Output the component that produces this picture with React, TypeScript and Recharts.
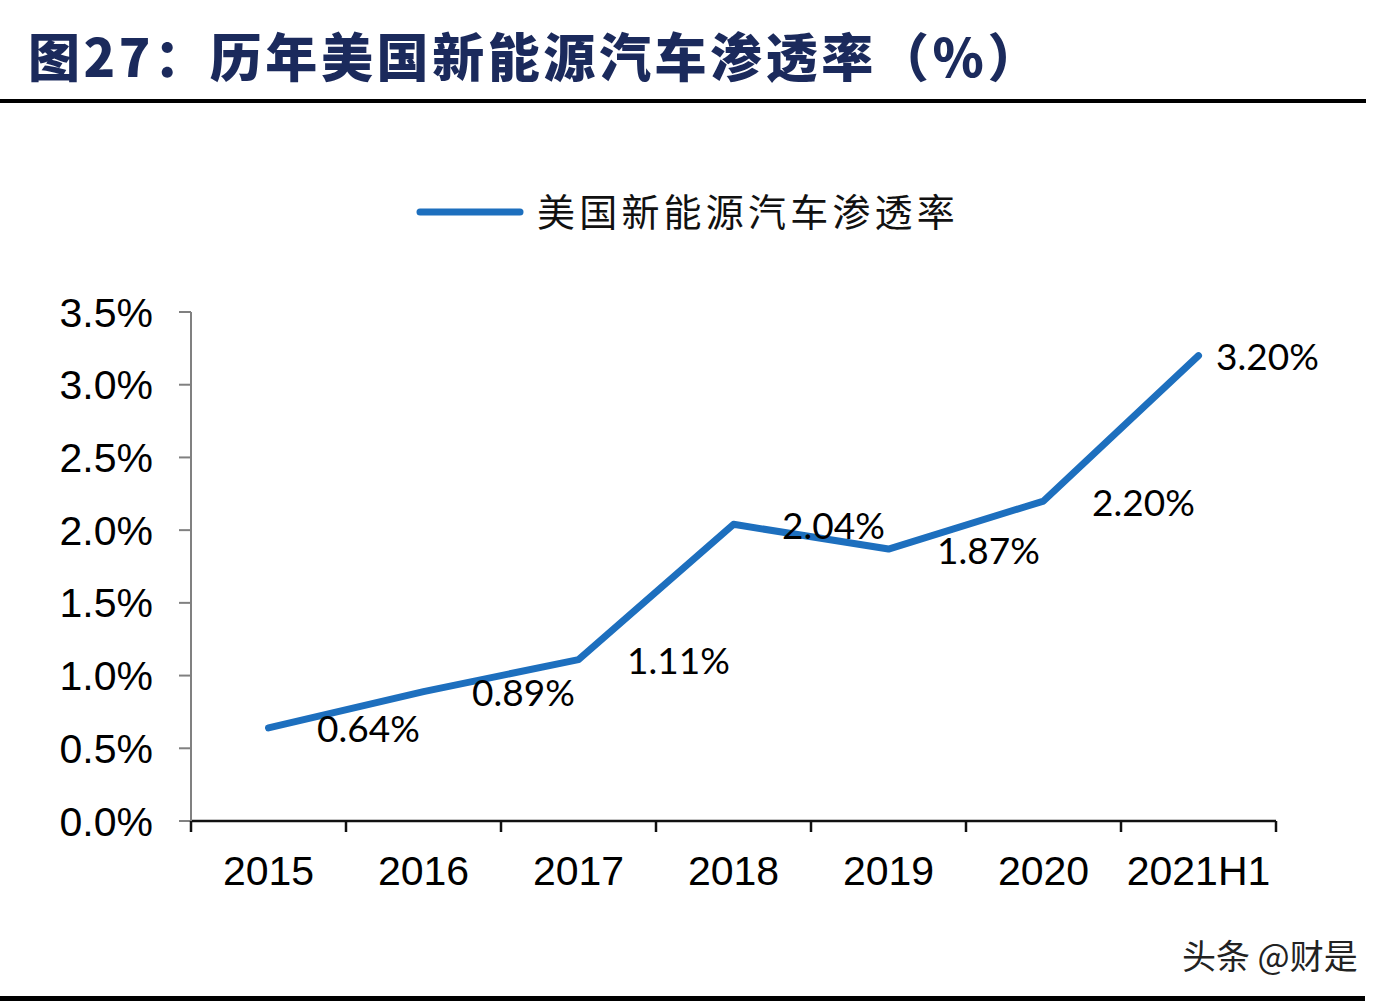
import React from 'react';
import { LineChart, Line, XAxis, YAxis, LabelList } from 'recharts';

const years = ['2015', '2016', '2017', '2018', '2019', '2020', '2021H1'];
const rates = [0.64, 0.89, 1.11, 2.04, 1.87, 2.2, 3.2];
const yTicks = [0, 0.5, 1, 1.5, 2, 2.5, 3, 3.5];
const seriesName = '美国新能源汽车渗透率';
const title = '图27：历年美国新能源汽车渗透率（%）';

const W = 1396;
const H = 1002;
const PLOT_LEFT = 191;
const PLOT_RIGHT = 1276;
const PLOT_TOP = 312;
const PLOT_BOTTOM = 821;
const BAND = (PLOT_RIGHT - PLOT_LEFT) / years.length;
const LINE_COLOR = '#1d6fbe';

const data = years.map((year, i) => ({ year, rate: rates[i] }));

const XTick = (props: any) => {
  const { x, y, payload, index } = props;
  const last = index === years.length - 1;
  return (
    <g>
      <line x1={x - BAND / 2} y1={y} x2={x - BAND / 2} y2={y + 11} stroke="#111" strokeWidth={2.5} />
      {last && <line x1={x + BAND / 2} y1={y} x2={x + BAND / 2} y2={y + 11} stroke="#111" strokeWidth={2.5} />}
      <text x={x} y={y + 64} textAnchor="middle" fill="#000" fontSize={41} fontFamily="'Liberation Sans', Arial, sans-serif">
        {payload.value}
      </text>
    </g>
  );
};

const ValueLabel = (props: any) => {
  const { x, y, value, index } = props;
  // the last label sits closer to its point, as in the source
  const dx = index === years.length - 1 ? 69 : 100;
  return (
    <text x={x + dx} y={y} textAnchor="middle" dominantBaseline="central" fill="#000" fontSize={37} fontFamily="Lato, 'Open Sans', sans-serif">
      {Number(value).toFixed(2)}%
    </text>
  );
};

export default function App() {
  return (
    <div style={{ position: 'absolute', left: 0, top: 0, width: W, height: H, background: '#fff', overflow: 'hidden' }}>
      <div
        style={{
          position: 'absolute', left: 28, top: 20, fontSize: 52, fontWeight: 900, lineHeight: '70px',
          color: '#1b2a5c', letterSpacing: 3.6, fontFamily: "'Noto Sans CJK SC', sans-serif", whiteSpace: 'nowrap',
        }}
      >
        {title}
      </div>
      <div style={{ position: 'absolute', left: 0, top: 99, width: 1366, height: 4, background: '#000' }} />
      <div style={{ position: 'absolute', left: 0, top: 996, width: 1365, height: 5, background: '#000' }} />

      <div style={{ position: 'absolute', left: 414, top: 186, height: 52, display: 'flex', alignItems: 'center' }}>
        <svg width={112} height={12} style={{ display: 'block' }}>
          <line x1={6} y1={6} x2={106} y2={6} stroke={LINE_COLOR} strokeWidth={7} strokeLinecap="round" />
        </svg>
        <span
          style={{
            marginLeft: 11, marginTop: -5, fontSize: 38, letterSpacing: 4.2, color: '#111', whiteSpace: 'nowrap',
            fontFamily: "'Noto Sans CJK SC', sans-serif",
          }}
        >
          {seriesName}
        </span>
      </div>

      <div
        style={{
          position: 'absolute', left: 1182, top: 932, fontSize: 34, color: '#222', whiteSpace: 'nowrap',
          fontFamily: "'Noto Sans CJK SC', sans-serif", lineHeight: '46px',
        }}
      >
        头条 @财是
      </div>

      <div style={{ position: 'absolute', left: 0, top: 0 }}>
        <LineChart
          width={W}
          height={H}
          data={data}
          margin={{ top: PLOT_TOP, right: W - PLOT_RIGHT, bottom: H - PLOT_BOTTOM - 80, left: 0 }}
        >
          <XAxis
            dataKey="year"
            height={80}
            padding={{ left: BAND / 2, right: BAND / 2 }}
            axisLine={{ stroke: '#111', strokeWidth: 2.5 }}
            tickLine={false}
            tickSize={0}
            tickMargin={0}
            interval={0}
            tick={<XTick />}
          />
          <YAxis
            width={PLOT_LEFT}
            domain={[0, 3.5]}
            ticks={yTicks}
            interval={0}
            axisLine={{ stroke: '#808080', strokeWidth: 2 }}
            tickLine={{ stroke: '#808080', strokeWidth: 2 }}
            tickSize={12}
            tickMargin={26}
            tick={{ fill: '#000', fontSize: 41, fontFamily: "'Liberation Sans', Arial, sans-serif" }}
            tickFormatter={(v: number) => `${v.toFixed(1)}%`}
          />
          <Line
            type="linear"
            dataKey="rate"
            stroke={LINE_COLOR}
            strokeWidth={7}
            strokeLinecap="round"
            strokeLinejoin="round"
            dot={false}
            activeDot={false}
            isAnimationActive={false}
          >
            <LabelList dataKey="rate" content={<ValueLabel />} />
          </Line>
        </LineChart>
      </div>
    </div>
  );
}
